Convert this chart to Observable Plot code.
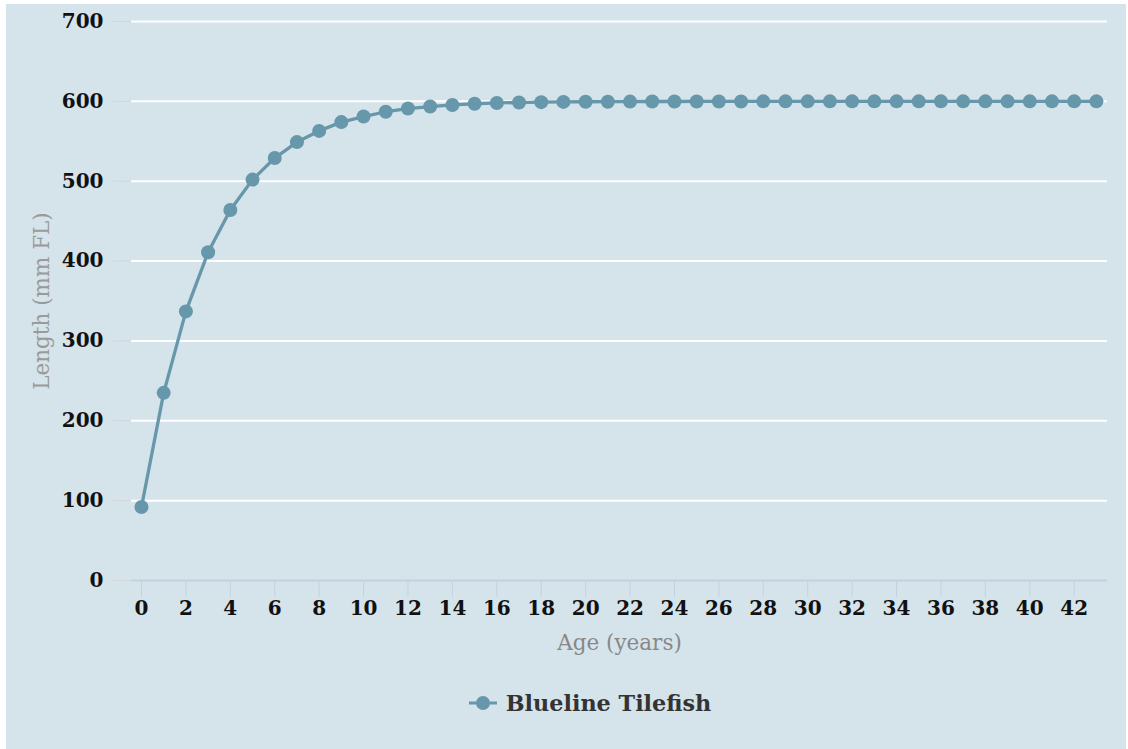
<!DOCTYPE html>
<html>
<head>
<meta charset="utf-8">
<script src="https://cdn.jsdelivr.net/npm/d3@7"></script>
<script src="https://cdn.jsdelivr.net/npm/@observablehq/plot@0.6"></script>
<style>
  html, body { margin: 0; padding: 0; background: #ffffff; }
  #wrap { position: absolute; left: 6px; top: 4px; width: 1120px; height: 745px; background: #d5e3ea; font-family: "DejaVu Serif", serif; }
  #chart svg { display: block; }
  #legend { margin-top: 27px; height: 24px; display: flex; justify-content: center; align-items: center; padding-left: 48px; font-family: "DejaVu Serif", serif; font-weight: bold; font-size: 22.3px; color: #333; }
  #legend svg { margin-right: 9px; }
</style>
</head>
<body>
<div id="wrap">
  <div id="chart"></div>
  <div id="legend"></div>
</div>
<script>
const seriesName = "Blueline Tilefish";
const xTitle = "Age (years)";
const yTitle = "Length (mm FL)";
const ages = d3.range(0, 44);
const lengths = [92, 235, 337, 411, 464, 502, 529, 549, 563, 574, 581, 587, 591, 593.5, 595.5, 597, 598, 598.5, 599, 599.3, 599.5, 599.6, 599.7, 599.8, 599.8, 599.9, 599.9, 599.9, 600, 600, 600, 600, 600, 600, 600, 600, 600, 600, 600, 600, 600, 600, 600, 600];
const xTicks = d3.range(0, 43, 2);
const yTicks = [0, 100, 200, 300, 400, 500, 600, 700];

const lineColor = "#6797ab";
const data = ages.map((a, i) => ({age: a, len: lengths[i]}));

const chart = Plot.plot({
  width: 1120,
  height: 660,
  marginLeft: 125,
  marginRight: 19,
  marginTop: 17,
  marginBottom: 84,
  style: {background: "transparent", fontFamily: "DejaVu Serif, serif"},
  x: {domain: [-0.45, 43.5]},
  y: {domain: [0, 700]},
  marks: [
    Plot.gridY(yTicks.filter(d => d > 0), {stroke: "#ffffff", strokeOpacity: 1, strokeWidth: 2}),
    Plot.ruleY([0], {stroke: "#c3d2e3", strokeWidth: 2}),
    Plot.axisY(yTicks, {tickSize: 18, tickPadding: 10, stroke: "#d4d4d4", fill: "#111", fontSize: 20, fontWeight: "bold", label: null}),
    Plot.axisX(xTicks, {tickSize: 17, tickPadding: 3, stroke: "#c3d2e3", fill: "#111", fontSize: 20, fontWeight: "bold", label: null}),
    Plot.text([xTitle], {frameAnchor: "bottom", lineAnchor: "middle", textAnchor: "middle", dy: 63, fill: "#888", fontSize: 21.5}),
    Plot.text([yTitle], {frameAnchor: "left", lineAnchor: "middle", textAnchor: "middle", dx: -89, rotate: -90, fill: "#9a9a9a", fontSize: 21.5}),
    Plot.line(data, {x: "age", y: "len", stroke: lineColor, strokeWidth: 3.3}),
    Plot.dot(data, {x: "age", y: "len", r: 7, fill: lineColor, stroke: "none"})
  ]
});
document.getElementById("chart").appendChild(chart);

const legend = document.getElementById("legend");
legend.innerHTML = `<svg width="28" height="20"><line x1="0" y1="10" x2="28" y2="10" stroke="${lineColor}" stroke-width="3"/><circle cx="14" cy="10" r="7" fill="${lineColor}"/></svg><span></span>`;
legend.querySelector("span").textContent = seriesName;
</script>
</body>
</html>
